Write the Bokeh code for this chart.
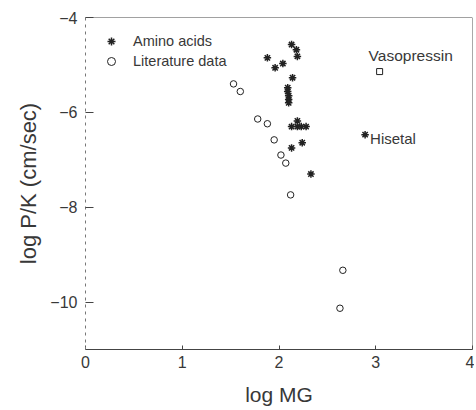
from bokeh.plotting import figure
from bokeh.models import Range1d, FixedTicker, Legend, LegendItem, Span
from bokeh.core.properties import value
from bokeh.embed import file_html
from bokeh.resources import INLINE

# ---- data ----
amino_logmg = [2.13, 2.18, 2.19, 1.88, 1.96, 2.04, 2.14, 2.09, 2.09, 2.10,
               2.10, 2.10, 2.19, 2.13, 2.19, 2.23, 2.28, 2.24, 2.13, 2.33]
amino_logpk = [-4.57, -4.68, -4.82, -4.85, -5.06, -4.97, -5.27, -5.48, -5.56, -5.65,
               -5.73, -5.80, -6.18, -6.30, -6.30, -6.30, -6.30, -6.64, -6.75, -7.30]

lit_logmg = [1.53, 1.60, 1.78, 1.88, 1.95, 2.02, 2.07, 2.12, 2.66, 2.63]
lit_logpk = [-5.40, -5.56, -6.14, -6.24, -6.58, -6.90, -7.07, -7.74, -9.33, -10.13]

hisetal_logmg = [2.89]
hisetal_logpk = [-6.47]
hisetal_label = ["Hisetal"]

vaso_logmg = [3.04]
vaso_logpk = [-5.14]
vaso_label = ["Vasopressin"]

x_ticks = [0, 1, 2, 3, 4]
y_ticks = [-4, -6, -8, -10]

FONT = "Liberation Sans"
INK = "#222222"
TXT = "#383838"

p = figure(width=474, height=409, x_range=Range1d(0, 4), y_range=Range1d(-11, -4),
           output_backend="svg", toolbar_location=None,
           min_border_left=85, min_border_right=2, min_border_top=17, min_border_bottom=60,
           x_axis_label="log MG", y_axis_label="log P/K (cm/sec)")
p.xgrid.visible = False
p.ygrid.visible = False
p.outline_line_color = None
p.background_fill_color = "white"
p.border_fill_color = "white"

p.xaxis.ticker = FixedTicker(ticks=x_ticks)
p.yaxis.ticker = FixedTicker(ticks=y_ticks)
for ax in (p.xaxis[0], p.yaxis[0]):
    ax.major_tick_out = 0
    ax.minor_tick_in = 0
    ax.minor_tick_out = 0
    ax.major_tick_line_color = "#444444"
    ax.major_label_text_font = FONT
    ax.major_label_text_font_size = "16px"
    ax.major_label_text_color = TXT
    ax.axis_label_text_font = FONT
    ax.axis_label_text_font_style = "normal"
    ax.axis_label_text_color = TXT
p.xaxis.major_tick_in = 4
p.yaxis.major_tick_in = 8
p.xaxis.major_label_standoff = 6
p.yaxis.major_label_standoff = 8
p.xaxis.axis_label_text_font_size = "21px"
p.yaxis.axis_label_text_font_size = "22px"
p.xaxis.axis_label_standoff = 12
p.yaxis.axis_label_standoff = 6
p.xaxis.axis_line_color = "#444444"
p.yaxis.axis_line_color = "#777777"
p.yaxis.axis_line_dash = "3 4"

p.add_layout(Span(location=-4, dimension="width", line_color="#444444", line_width=1))
p.add_layout(Span(location=4, dimension="height", line_color="#555555", line_width=1))

r_amino = p.scatter(amino_logmg, amino_logpk, marker="asterisk", size=7.5,
                    line_color=INK, line_width=1.5)
r_lit = p.scatter(lit_logmg, lit_logpk, marker="circle", size=6.5,
                  line_color=INK, line_width=1, fill_color=None)
p.scatter(hisetal_logmg, hisetal_logpk, marker="asterisk", size=7.5,
          line_color=INK, line_width=1.5)
p.scatter(vaso_logmg, vaso_logpk, marker="square", size=6,
          line_color=INK, line_width=1, fill_color=None)

p.text(x=vaso_logmg, y=vaso_logpk, text=vaso_label, x_offset=-11, y_offset=-16,
       text_font=value(FONT), text_font_size="15.5px", text_align="left",
       text_baseline="middle", text_color=TXT)
p.text(x=hisetal_logmg, y=hisetal_logpk, text=hisetal_label, x_offset=5, y_offset=4,
       text_font=value(FONT), text_font_size="15px", text_align="left",
       text_baseline="middle", text_color=TXT)

legend = Legend(items=[LegendItem(label="Amino acids", renderers=[r_amino]),
                       LegendItem(label="Literature data", renderers=[r_lit])],
                location="top_left", margin=14, padding=0, spacing=0,
                glyph_width=24, glyph_height=20, label_height=20, label_standoff=10,
                label_text_font=FONT, label_text_font_size="14.5px",
                label_text_color=TXT, background_fill_alpha=0,
                border_line_color=None)
p.add_layout(legend)

open("out.html", "w").write(file_html(p, INLINE))
